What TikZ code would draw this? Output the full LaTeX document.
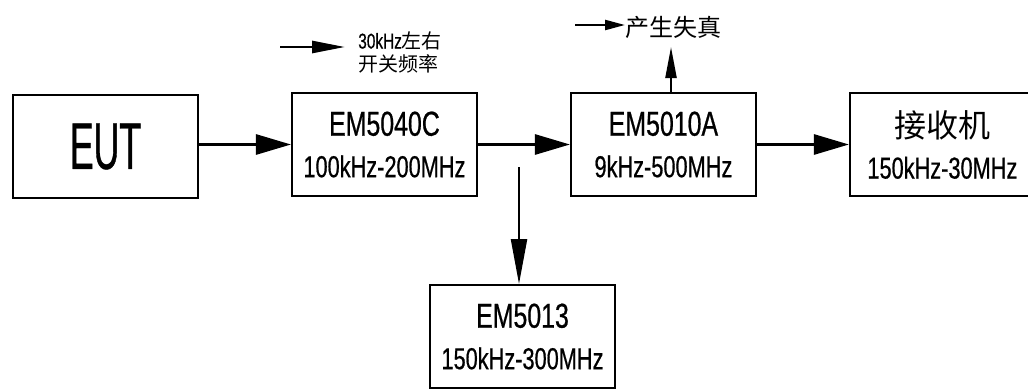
\documentclass[tikz,border=0pt]{standalone}
\usepackage{fontspec}
\usetikzlibrary{positioning,arrows.meta}
\setmainfont{Liberation Sans}
\newfontfamily\narrowfont[FakeStretch=0.72,FakeBold=0.6]{Liberation Sans}
\newfontfamily\eutfont[FakeStretch=0.54,FakeBold=0.6]{Liberation Sans}
\newfontfamily\cjk{Noto Sans CJK SC}

\begin{document}
\begin{tikzpicture}[
    unit/.style = {draw, line width=1.4pt, minimum width=4.625cm, minimum height=2.575cm,
        inner sep=0pt, align=center, font=\narrowfont\fontsize{21.5}{29.5}\selectfont},
    big/.style = {font=\fontsize{24.6}{29.5}\selectfont},
    sig/.style = {line width=2pt, -{Triangle[length=0.875cm,width=0.5cm]}},
    note/.style = {inner sep=0pt, anchor=west},
    node distance = 2.3cm
]
    \fill [white] (0,0) rectangle (25.7,-9.7);
    \useasboundingbox (0,0) rectangle (25.7,-9.7);

    \node [unit] (eut) at (2.6375,-3.6625) {\eutfont\fontsize{47}{50}\selectfont EUT};
    \node [unit, right=of eut, yshift=0.05cm] (em40) {{\fontsize{24.6}{29.5}\selectfont EM5040C}\\100kHz-200MHz};
    \node [unit, right=of em40] (em10) {{\fontsize{24.6}{29.5}\selectfont EM5010A}\\9kHz-500MHz};
    \node [unit, right=of em10] (rx) {{\cjk\fontsize{22.8}{29.5}\selectfont 接收机}\\150kHz-30MHz};
    \node [unit] (em13) at (13.0625,-8.4125) {{\fontsize{24.6}{29.5}\selectfont EM5013}\\150kHz-300MHz};

    \draw [sig] (em40.west -| eut.east) -- (em40);
    \draw [sig] (em40) -- (em10);
    \draw [sig] (em10) -- (rx);

    % branch down to EM5013
    \coordinate (tap) at (12.975,-4.175);
    \draw [line width=1.6pt, -{Triangle[length=1.125cm,width=0.4cm]}] (tap) -- (tap |- em13.north);

    % distortion
    \coordinate (dist) at (16.775,-1.175);
    \draw [line width=1.6pt, -{Triangle[length=0.775cm,width=0.275cm]}] (em10.north -| dist) -- (dist);
    \node [note, font=\cjk\fontsize{17.1}{20}\selectfont] (distxt) at (15.625,-0.675) {产生失真};
    \coordinate (dstart) at (14.375,-0.625);
    \draw [line width=1.6pt, -{Triangle[length=0.5cm,width=0.25cm]}] (dstart) -- (dstart -| distxt.west);

    % switching frequency
    \node [note, align=left, font=\fontsize{14.2}{16.4}\selectfont] (freq) at (8.95,-1.3125)
        {{\narrowfont\fontsize{15.2}{16.4}\selectfont 30kHz}{\cjk 左右}\\{\cjk 开关频率}};
    \coordinate (fs) at (7.0,-1.175);
    \draw [line width=2pt, -{Triangle[length=0.825cm,width=0.3cm]}] (fs) -- ([xshift=-0.325cm]freq.west |- fs);

\end{tikzpicture}
\end{document}
